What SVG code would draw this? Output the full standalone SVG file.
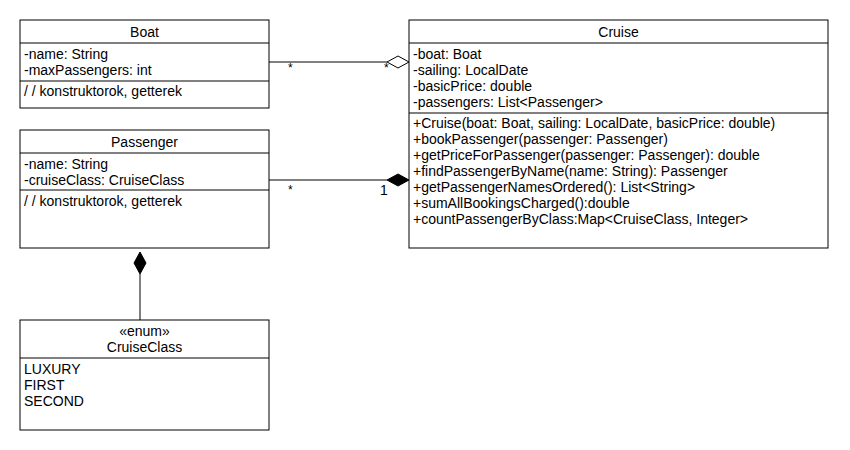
<svg xmlns="http://www.w3.org/2000/svg" width="850" height="450" viewBox="0 0 850 450">
<style>
.box{fill:#fff;stroke:#000;stroke-width:1}
.ln{stroke:#000;stroke-width:1;fill:none}
text{font-family:"Liberation Sans",Arial,sans-serif;font-size:14px;fill:#000}
.c{text-anchor:middle}
</style>
<rect width="850" height="450" fill="#fff"/>
<g id="connectors">
<line class="ln" x1="269" y1="62" x2="387" y2="62"/>
<polygon points="387,62 398,56 409,62 398,68" fill="#fff" stroke="#000"/>
<text x="288" y="72" style="font-size:12px">*</text>
<text x="384" y="72" style="font-size:12px">*</text>
<line class="ln" x1="269" y1="180" x2="387" y2="180"/>
<polygon points="387,180 398,174 409,180 398,186" fill="#000" stroke="#000"/>
<text x="288" y="194" style="font-size:12px">*</text>
<text x="380" y="195">1</text>
<line class="ln" x1="140" y1="274" x2="140" y2="320"/>
<polygon points="140,252 146,263 140,274 134,263" fill="#000" stroke="#000"/>
</g>
<g id="Boat">
<rect class="box" x="20" y="20" width="249" height="88"/>
<line class="ln" x1="20" y1="43" x2="269" y2="43"/>
<line class="ln" x1="20" y1="81" x2="269" y2="81"/>
<text class="c" x="144.5" y="37">Boat</text>
<text x="24" y="59">-name: String</text>
<text x="24" y="75">-maxPassengers: int</text>
<text x="24" y="96">/ / konstruktorok, getterek</text>
</g>
<g id="Cruise">
<rect class="box" x="409" y="20" width="419" height="228"/>
<line class="ln" x1="409" y1="43" x2="828" y2="43"/>
<line class="ln" x1="409" y1="113" x2="828" y2="113"/>
<text class="c" x="618.5" y="37">Cruise</text>
<text x="413" y="59">-boat: Boat</text>
<text x="413" y="75">-sailing: LocalDate</text>
<text x="413" y="91">-basicPrice: double</text>
<text x="413" y="107">-passengers: List&lt;Passenger&gt;</text>
<text x="413" y="128">+Cruise(boat: Boat, sailing: LocalDate, basicPrice: double)</text>
<text x="413" y="144">+bookPassenger(passenger: Passenger)</text>
<text x="413" y="160">+getPriceForPassenger(passenger: Passenger): double</text>
<text x="413" y="176">+findPassengerByName(name: String): Passenger</text>
<text x="413" y="192">+getPassengerNamesOrdered(): List&lt;String&gt;</text>
<text x="413" y="208">+sumAllBookingsCharged():double</text>
<text x="413" y="224">+countPassengerByClass:Map&lt;CruiseClass, Integer&gt;</text>
</g>
<g id="Passenger">
<rect class="box" x="20" y="130" width="249" height="118"/>
<line class="ln" x1="20" y1="153" x2="269" y2="153"/>
<line class="ln" x1="20" y1="190" x2="269" y2="190"/>
<text class="c" x="144.5" y="147">Passenger</text>
<text x="24" y="169">-name: String</text>
<text x="24" y="185">-cruiseClass: CruiseClass</text>
<text x="24" y="206">/ / konstruktorok, getterek</text>
</g>
<g id="CruiseClass">
<rect class="box" x="20" y="320" width="249" height="110"/>
<line class="ln" x1="20" y1="358" x2="269" y2="358"/>
<text class="c" x="144.5" y="336">«enum»</text>
<text class="c" x="144.5" y="352">CruiseClass</text>
<text x="24" y="374">LUXURY</text>
<text x="24" y="390">FIRST</text>
<text x="24" y="406">SECOND</text>
</g>
</svg>
